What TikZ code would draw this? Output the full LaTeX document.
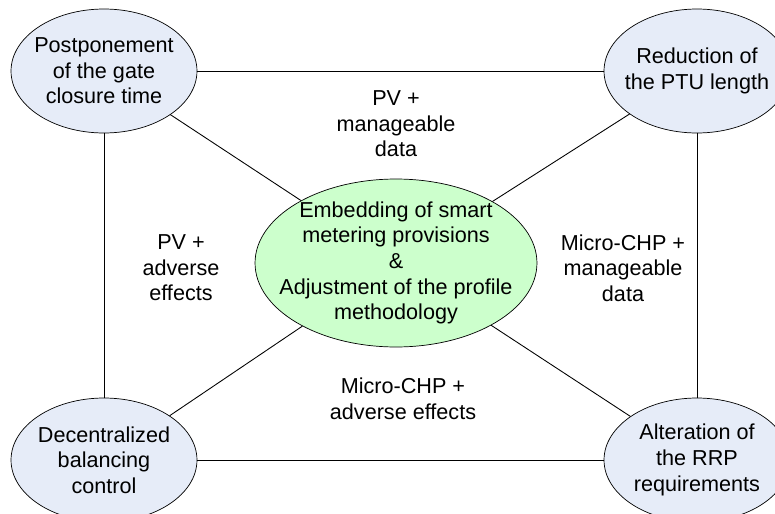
\documentclass[tikz,border=0pt]{standalone}
\usepackage{fontspec}
\setmainfont{Liberation Sans}
\usetikzlibrary{shapes.geometric}
\definecolor{cornerfill}{RGB}{230,236,248}
\definecolor{centerfill}{RGB}{204,255,204}
\begin{document}
\begin{tikzpicture}[x=0.02cm,y=-0.02cm, line join=round, line cap=round,
	font=\fontsize{12.3}{14.6}\selectfont,
	corner/.style={ellipse, draw, fill=cornerfill, align=center, inner xsep=-4mm, inner ysep=-2mm, minimum width=3.72cm, minimum height=2.48cm},
	core/.style={ellipse, draw, fill=centerfill, align=center, inner xsep=-4mm, inner ysep=-2mm, minimum width=5.64cm, minimum height=3.36cm},
	link/.style={line width=0.5pt},
	lbl/.style={align=center, inner sep=0pt}]
	\useasboundingbox (0,0) rectangle (775,514);
	% Ellipses
	\node[corner] (gate) at (104,71) {Postponement\\of the gate\\closure time};
	\node[corner] (ptu) at (697,71) {Reduction of\\the PTU length};
	\node[corner] (bal) at (104,460) {Decentralized\\balancing\\control};
	\node[corner] (rrp) at (697,460) {Alteration of\\the RRP\\requirements};
	\node[core] (smart) at (396,263) {Embedding of smart\\metering provisions\\\&\\Adjustment of the profile\\methodology};
	% Connections
	\draw[link] (gate) -- (ptu);
	\draw[link] (ptu) -- (rrp);
	\draw[link] (rrp) -- (bal);
	\draw[link] (bal) -- (gate);
	\foreach \n in {gate,ptu,bal,rrp}
		\draw[link] (\n) -- (smart);
	% Labels
	\node[lbl] (pvdata) at (396,124) {PV +\\manageable\\data};
	\node[lbl] (pvadv) at (181,268) {PV +\\adverse\\effects};
	\node[lbl] (chpdata) at (623,268) {Micro-CHP +\\manageable\\data};
	\node[lbl] (chpadv) at (403,399) {Micro-CHP +\\adverse effects};
\end{tikzpicture}
\end{document}
